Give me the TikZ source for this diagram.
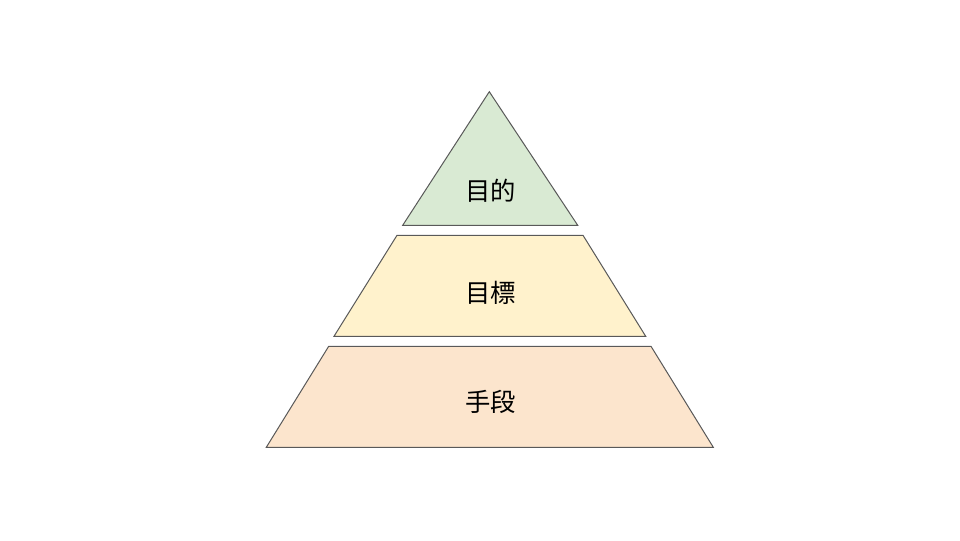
\documentclass[tikz,border=0pt]{standalone}
\usepackage{fontspec}
\newfontfamily\jpfont{Noto Sans CJK JP}
\definecolor{lgreen}{HTML}{D9EAD3}
\definecolor{lyellow}{HTML}{FFF2CC}
\definecolor{lorange}{HTML}{FCE5CD}
\definecolor{edgegray}{HTML}{595959}
\tikzset{
  layer/.style={draw=edgegray, line width=0.75pt, line join=miter},
  lbl/.style={font=\jpfont\fontsize{19}{21}\selectfont, text=black, inner sep=0pt}
}
\begin{document}
\begin{tikzpicture}[x=0.75pt,y=-0.75pt]
\useasboundingbox (0,0) rectangle (960,540);
\fill[white] (0,0) rectangle (960,540);
\path[layer, fill=lgreen] (489.3,91.7) -- (577.7,225.3) -- (402.7,225.3) -- cycle;
\path[layer, fill=lyellow] (397,235.3) -- (583,235.3) -- (645.7,336.3) -- (334,336.3) -- cycle;
\path[layer, fill=lorange] (328.7,346.3) -- (651,346.3) -- (713.3,447.3) -- (266.3,447.3) -- cycle;
\node[lbl] (goal) at (490.5,191) {目的};
\node[lbl] (target) at (490.5,293) {目標};
\node[lbl] (means) at (490.5,402) {手段};
\end{tikzpicture}
\end{document}
